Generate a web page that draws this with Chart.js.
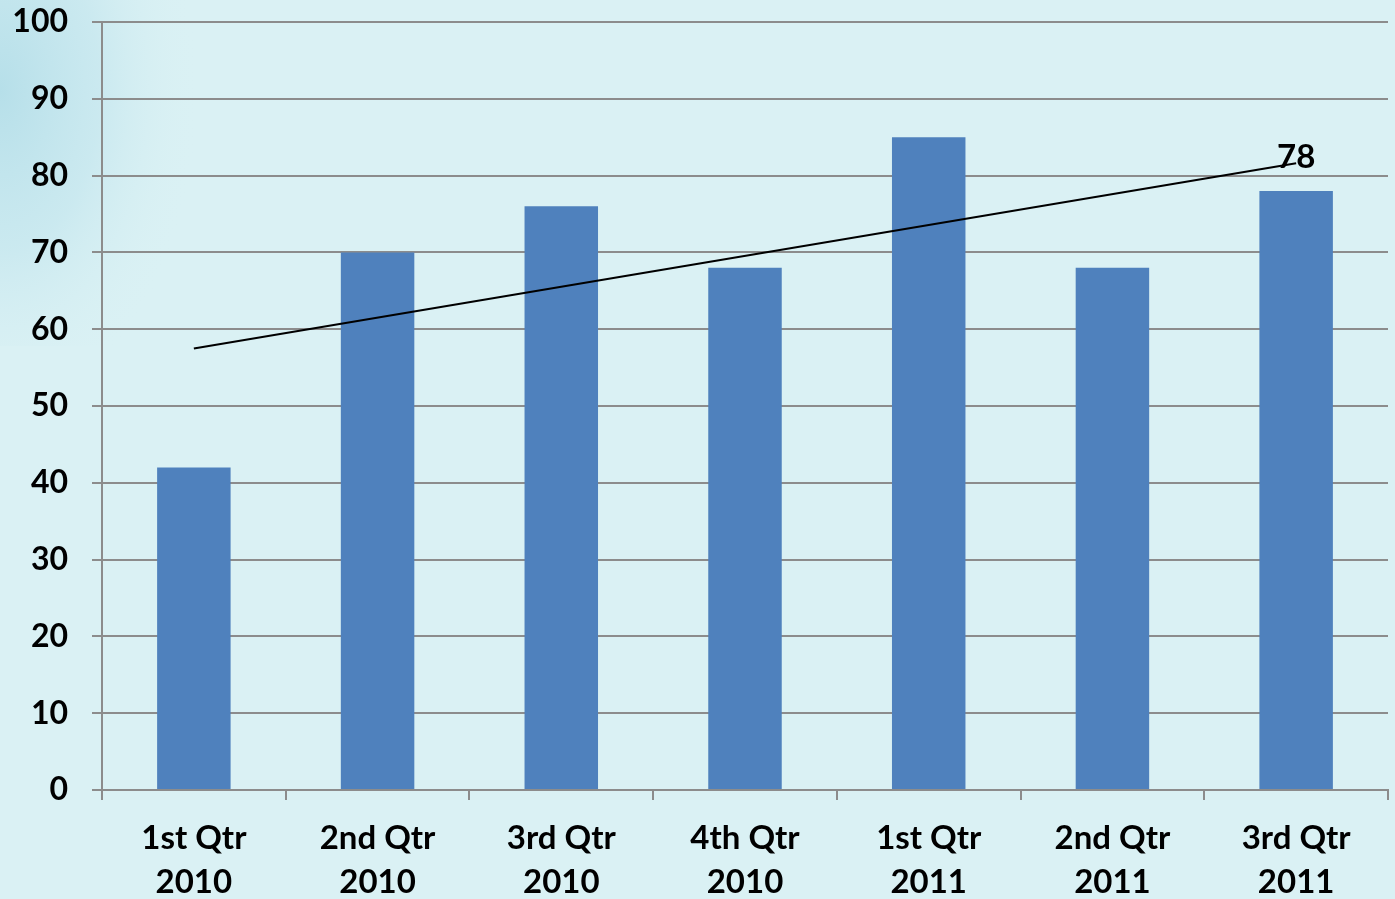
<!DOCTYPE html>
<html>
<head>
<meta charset="utf-8">
<script src="https://cdn.jsdelivr.net/npm/chart.js@4"></script>
<style>
  html, body { margin: 0; padding: 0; background: #daf1f4; }
  #wrap { width: 1395px; height: 899px; position: relative; }
</style>
</head>
<body>
<div id="wrap"><canvas id="c" width="1395" height="899"></canvas></div>
<script>
// Quarterly results, 2010–2011
const categories = [
  ['1st Qtr', '2010'], ['2nd Qtr', '2010'], ['3rd Qtr', '2010'], ['4th Qtr', '2010'],
  ['1st Qtr', '2011'], ['2nd Qtr', '2011'], ['3rd Qtr', '2011']
];
const values = [42, 70, 76, 68, 85, 68, 78];
// Linear trend: value at first and last quarter
const trendStart = 57.5;
const trendEnd = 81.6;
const trendValues = [trendStart, null, null, null, null, null, trendEnd];
const yTicks = [0, 10, 20, 30, 40, 50, 60, 70, 80, 90, 100];

const FONT = 'Lato, "Open Sans", sans-serif';
const WEIGHT = 'bold';
const GRID = '#8c8c8c';

// Soft cyan backdrop with a bluish wash in the upper-left corner
const backdrop = {
  id: 'backdrop',
  beforeDraw(chart) {
    const { ctx, width, height } = chart;
    ctx.save();
    ctx.fillStyle = '#daf1f4';
    ctx.fillRect(0, 0, width, height);
    ctx.translate(0, 90);
    ctx.scale(1, 1.6);
    const g = ctx.createRadialGradient(0, 0, 0, 0, 0, 200);
    g.addColorStop(0, 'rgba(182,223,233,1)');
    g.addColorStop(0.5, 'rgba(196,230,238,0.7)');
    g.addColorStop(1, 'rgba(218,241,244,0)');
    ctx.fillStyle = g;
    ctx.fillRect(0, -90, 220, 250);
    ctx.restore();
  }
};

// Value label above the last quarter's bar
const lastLabel = {
  id: 'lastLabel',
  afterDatasetsDraw(chart) {
    const meta = chart.getDatasetMeta(1);
    const i = values.length - 1;
    const bar = meta.data[i];
    const { ctx } = chart;
    ctx.save();
    ctx.font = WEIGHT + ' 33px ' + FONT;
    ctx.fillStyle = '#000';
    ctx.textAlign = 'center';
    ctx.textBaseline = 'middle';
    ctx.fillText(String(values[i]), bar.x, bar.y - 34);
    ctx.restore();
  }
};

new Chart(document.getElementById('c'), {
  data: {
    labels: categories,
    datasets: [
      {
        type: 'line',
        data: trendValues,
        spanGaps: true,
        borderColor: '#000',
        borderWidth: 2,
        pointRadius: 0,
        fill: false,
        order: 0
      },
      {
        type: 'bar',
        data: values,
        backgroundColor: '#4f81bd',
        borderWidth: 0,
        barPercentage: 0.4,
        categoryPercentage: 1,
        order: 1
      }
    ]
  },
  options: {
    responsive: false,
    animation: false,
    layout: { padding: { left: 0, right: 7, top: 22, bottom: 0 } },
    plugins: {
      legend: { display: false },
      tooltip: { enabled: false }
    },
    scales: {
      x: {
        offset: true,
        grid: {
          offset: true,
          drawOnChartArea: false,
          drawTicks: true,
          tickLength: 10,
          tickColor: GRID,
          lineWidth: 2
        },
        border: { display: true, color: GRID, width: 2 },
        ticks: {
          color: '#000',
          padding: 16,
          maxRotation: 0,
          autoSkip: false,
          font: { family: FONT, size: 33, weight: WEIGHT, lineHeight: 1.333 }
        },
        afterFit(scale) {
          scale.height = 109;
          scale.paddingLeft = 0;
          scale.paddingRight = 0;
        }
      },
      y: {
        min: 0,
        max: 100,
        afterBuildTicks(scale) { scale.ticks = yTicks.map(v => ({ value: v })); },
        grid: {
          color: GRID,
          lineWidth: 2,
          tickLength: 10,
          tickColor: GRID
        },
        border: { display: true, color: GRID, width: 2 },
        ticks: {
          color: '#000',
          padding: 24,
          font: { family: FONT, size: 32, weight: WEIGHT }
        },
        afterFit(scale) {
          scale.width = 102;
          scale.paddingTop = 0;
          scale.paddingBottom = 0;
        }
      }
    }
  },
  plugins: [backdrop, lastLabel]
});
</script>
</body>
</html>
